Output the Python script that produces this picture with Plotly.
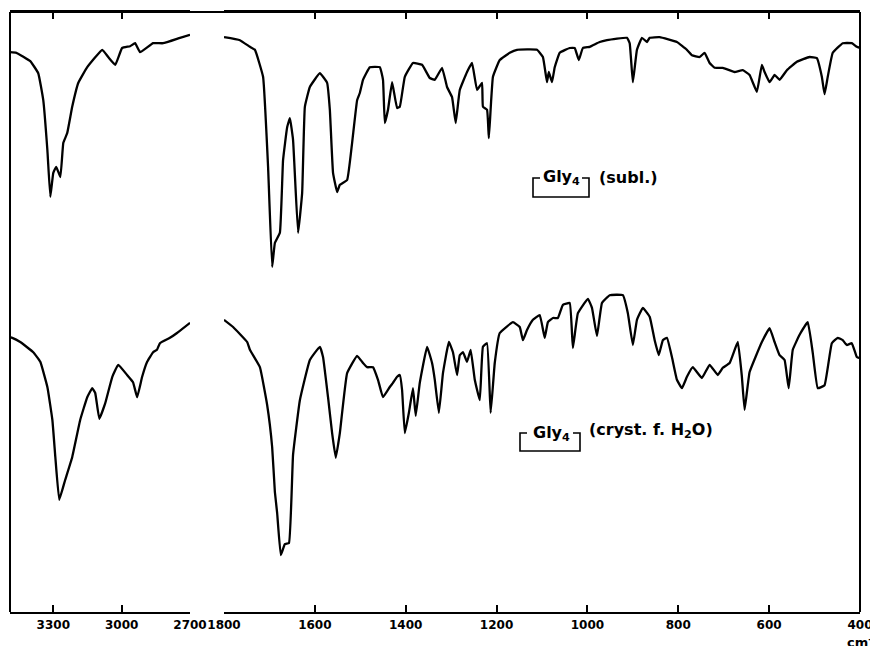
import plotly.graph_objects as go

# ---- Data (wavenumber in cm^-1, transmittance in % of chart height) ----
# Gly4 (subl.) - high-frequency segment
subl_hi_wn = [3490, 3462, 3401, 3366, 3344, 3326, 3313, 3300, 3287, 3269, 3256, 3239, 3217,
              3190, 3151, 3085, 3059, 3028, 2998, 2963, 2941, 2919, 2862, 2818, 2744, 2700]
subl_hi_t = [93.3, 93.2, 91.8, 89.8, 85.3, 77.0, 69.2, 73.2, 74.2, 72.5, 78.2, 79.8, 84.2,
             88.2, 90.8, 93.7, 92.5, 91.2, 94.0, 94.3, 94.8, 93.3, 94.8, 94.8, 95.7, 96.2]

# Gly4 (subl.) - fingerprint segment
subl_lo_wn = [1800, 1765, 1743, 1732, 1714, 1703, 1694, 1688, 1677, 1670, 1661, 1655, 1648,
              1637, 1628, 1622, 1611, 1589, 1573, 1567, 1560, 1551, 1545, 1529, 1518, 1507,
              1501, 1494, 1479, 1457, 1450, 1446, 1439, 1430, 1419, 1413, 1402, 1384, 1364,
              1347, 1336, 1320, 1309, 1298, 1290, 1281, 1265, 1254, 1243, 1232, 1230, 1221,
              1217, 1208, 1193, 1171, 1155, 1111, 1098, 1089, 1085, 1078, 1072, 1061, 1039,
              1028, 1019, 1010, 995, 973, 957, 913, 907, 900, 891, 880, 869, 863, 841, 803,
              781, 770, 753, 742, 731, 720, 702, 676, 658, 643, 627, 616, 610, 599, 588, 577,
              561, 539, 511, 495, 484, 478, 471, 460, 438, 418, 407, 400]
subl_lo_t = [95.8, 95.3, 94.2, 93.7, 89.2, 74.2, 57.5, 61.5, 63.2, 75.3, 80.8, 82.3, 78.7,
             63.2, 69.8, 84.2, 87.5, 89.8, 88.2, 83.7, 73.2, 70.0, 71.2, 72.0, 78.2, 85.3,
             86.5, 88.7, 90.8, 90.8, 88.7, 81.5, 83.7, 88.3, 84.0, 84.2, 89.2, 91.5, 91.2,
             89.0, 88.7, 90.7, 87.5, 85.8, 81.5, 87.0, 90.0, 91.5, 87.0, 88.2, 84.2, 83.7,
             79.0, 89.2, 92.0, 93.2, 93.7, 93.7, 92.5, 88.3, 90.0, 88.3, 90.8, 93.2, 94.0,
             94.0, 92.0, 94.0, 94.2, 95.0, 95.3, 95.7, 94.8, 88.3, 93.7, 95.7, 95.0, 95.7, 95.8, 95.0,
             93.7, 92.8, 92.5, 93.2, 91.5, 90.7, 90.7, 90.0, 90.3, 89.5, 86.7, 91.2, 90.0, 88.3, 89.5, 88.7,
             90.3, 91.7, 92.5, 92.3, 89.2, 86.3, 89.2, 93.2, 94.8, 94.8, 94.2, 94.0]

# Gly4 (cryst. f. H2O) - high-frequency segment
cryst_hi_wn = [3490, 3480, 3445, 3388, 3357, 3326, 3304, 3291, 3274, 3248, 3217, 3182, 3151,
               3129, 3116, 3098, 3072, 3041, 3015, 2976, 2950, 2932, 2910, 2888, 2862, 2845,
               2832, 2788, 2757, 2700]
cryst_hi_t = [45.8, 45.7, 45.0, 43.3, 41.7, 37.5, 32.0, 25.8, 18.7, 22.0, 25.8, 32.0, 35.8,
              37.3, 36.5, 32.2, 34.8, 39.2, 41.2, 39.5, 38.3, 35.8, 39.2, 41.7, 43.3, 43.7,
              44.8, 45.7, 46.5, 48.2]

# Gly4 (cryst. f. H2O) - fingerprint segment
cryst_lo_wn = [1800, 1780, 1749, 1743, 1721, 1705, 1694, 1688, 1683, 1675, 1666, 1657, 1648,
               1633, 1611, 1589, 1582, 1571, 1562, 1554, 1545, 1529, 1507, 1494, 1485, 1472,
               1461, 1450, 1435, 1428, 1419, 1413, 1408, 1402, 1393, 1384, 1378, 1369, 1353,
               1342, 1336, 1327, 1318, 1305, 1296, 1287, 1281, 1274, 1265, 1257, 1248, 1237,
               1230, 1221, 1213, 1204, 1193, 1164, 1149, 1142, 1133, 1120, 1105, 1094, 1087,
               1076, 1065, 1054, 1039, 1032, 1021, 999, 990, 979, 968, 951, 922, 911, 900,
               891, 878, 863, 852, 843, 834, 825, 814, 803, 792, 781, 768, 748, 731, 713, 702,
               687, 669, 660, 654, 643, 616, 599, 588, 577, 566, 557, 548, 533, 515, 504, 493,
               478, 462, 449, 438, 429, 418, 407, 400]
cryst_lo_t = [48.7, 47.5, 45.0, 43.7, 40.8, 34.5, 27.5, 20.0, 16.5, 9.5, 11.3, 11.5, 26.2,
              35.3, 42.0, 44.2, 42.5, 35.8, 29.8, 25.7, 29.8, 39.8, 42.7, 41.5, 40.8, 40.8,
              38.7, 35.8, 37.5, 38.2, 39.2, 39.5, 37.0, 29.8, 33.2, 37.3, 32.7, 38.2, 44.2,
              41.5, 38.7, 33.2, 39.8, 45.0, 43.3, 39.5, 42.8, 43.3, 41.7, 43.7, 38.7, 35.3,
              44.2, 44.8, 33.2, 41.5, 46.5, 48.3, 47.5, 45.3, 47.0, 48.7, 49.5, 45.7, 48.3,
              49.0, 49.0, 51.2, 51.5, 44.0, 49.8, 52.2, 50.7, 46.0, 51.5, 52.8, 52.8, 49.8, 44.5,
              48.7, 50.7, 49.2, 45.3, 42.8, 45.3, 45.7, 42.5, 38.7, 37.3, 39.2, 40.8, 39.0, 41.2, 39.5, 40.7,
              41.5, 45.0, 39.2, 33.7, 40.0, 45.0, 47.3, 45.0, 42.8, 42.0, 37.3, 43.7, 46.2, 48.3, 43.2, 37.3,
              37.8, 44.8, 45.7, 45.3, 44.5, 44.8, 42.5, 42.3]

hi_ticks = [3300, 3000, 2700]
lo_ticks = [1800, 1600, 1400, 1200, 1000, 800, 600, 400]

FONT = "DejaVu Sans"
LW = 2.3

fig = go.Figure()
line = dict(color="black", width=LW, shape="spline", smoothing=0.3)
fig.add_trace(go.Scatter(x=subl_hi_wn, y=subl_hi_t, mode="lines", line=line, xaxis="x", yaxis="y"))
fig.add_trace(go.Scatter(x=subl_lo_wn, y=subl_lo_t, mode="lines", line=line, xaxis="x2", yaxis="y"))
fig.add_trace(go.Scatter(x=cryst_hi_wn, y=cryst_hi_t, mode="lines", line=line, xaxis="x", yaxis="y"))
fig.add_trace(go.Scatter(x=cryst_lo_wn, y=cryst_lo_t, mode="lines", line=line, xaxis="x2", yaxis="y"))

ax_common = dict(showline=True, linecolor="black", linewidth=2, mirror="ticks",
                 ticks="inside", ticklen=7, tickwidth=2, tickcolor="black",
                 showgrid=False, zeroline=False, ticklabelstandoff=1, automargin=False,
                 tickfont=dict(family=FONT, size=12, color="black", weight="bold"))
D1 = 180 / 850
D2 = 214 / 850
# page has an 8px body margin, so the figure is 8px smaller and margins shifted
fig.update_layout(
    width=870, height=638,
    margin=dict(l=2, r=18, t=4, b=34, autoexpand=False),
    paper_bgcolor="white", plot_bgcolor="white",
    showlegend=False,
    xaxis=dict(domain=[0, D1], range=[3490, 2700], tickvals=hi_ticks, anchor="y", **ax_common),
    xaxis2=dict(domain=[D2, 1], range=[1800, 400], tickvals=lo_ticks, anchor="y", **ax_common),
    yaxis=dict(range=[0, 100], showticklabels=False, ticks="", showgrid=False, automargin=False,
               zeroline=False, showline=False, domain=[0, 1]),
)

# frame: left, right, top borders
frame = dict(color="black", width=2)
fig.add_shape(type="line", xref="paper", yref="paper", x0=0, x1=0, y0=0, y1=1, line=frame)
fig.add_shape(type="line", xref="paper", yref="paper", x0=1, x1=1, y0=0, y1=1, line=frame)
fig.add_shape(type="line", xref="paper", yref="paper", x0=0, x1=1, y0=1, y1=1, line=frame)

# cyclo brackets around Gly4
def bracket(xl, xr, yt, yb, stub):
    s = dict(color="black", width=1.6)
    fig.add_shape(type="path", xref="paper", yref="paper",
                  path=f"M {xl+stub},{yt} L {xl},{yt} L {xl},{yb} L {xr},{yb} L {xr},{yt} L {xr-stub},{yt}",
                  line=s)

def px(x):
    return (x - 10) / 850

def py(y):
    return (612 - y) / 600

bracket(px(533), px(589), py(178), py(197), 7 / 850)
bracket(px(520), px(580), py(433), py(451), 7 / 850)

tf = dict(family=FONT, size=16, color="black", weight="bold")
fig.add_annotation(xref="paper", yref="paper", x=px(561), y=py(178), text="Gly<sub>4</sub>",
                   showarrow=False, font=tf, xanchor="center", yanchor="middle")
fig.add_annotation(xref="paper", yref="paper", x=px(597), y=py(177), text="(subl.)",
                   showarrow=False, font=tf, xanchor="left", yanchor="middle")
fig.add_annotation(xref="paper", yref="paper", x=px(551), y=py(433), text="Gly<sub>4</sub>",
                   showarrow=False, font=tf, xanchor="center", yanchor="middle")
fig.add_annotation(xref="paper", yref="paper", x=px(587), y=py(431), text="(cryst. f. H<sub>2</sub>O)",
                   showarrow=False, font=tf, xanchor="left", yanchor="middle")
fig.add_annotation(xref="paper", yref="paper", x=px(845), y=py(642), text="cm<sup>-1</sup>",
                   showarrow=False, font=dict(family=FONT, size=13, color="black", weight="bold"),
                   xanchor="left", yanchor="middle")

fig.write_html("out.html")
